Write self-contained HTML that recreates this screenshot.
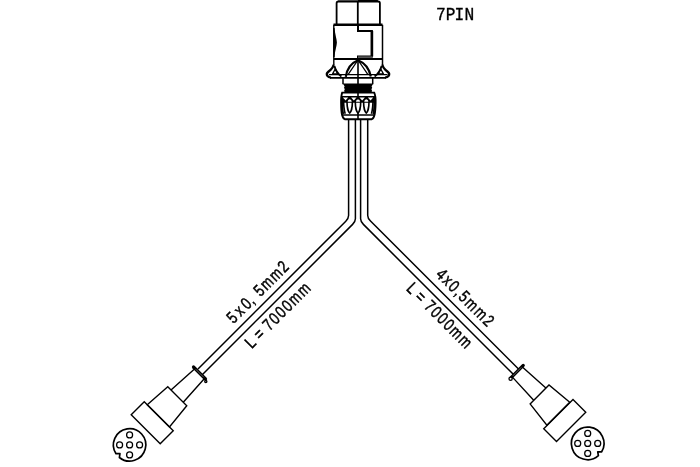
<!DOCTYPE html>
<html><head><meta charset="utf-8"><style>
html,body{margin:0;padding:0;background:#fff;}
svg{display:block;will-change:transform;}
text{font-family:"Liberation Sans",sans-serif;fill:#000;}
</style></head><body>
<svg width="700" height="467" viewBox="0 0 700 467">
<rect width="700" height="467" fill="#fff"/>
<g fill="none" stroke="#000" stroke-width="1.5"><path d="M348.6,119 L348.60,215.60 Q348.6,218.39999999999998 345.80,221.20 L198.00,369.00"/><path d="M355.4,119 L355.40,218.80 Q355.4,221.60000000000002 352.60,224.40 L202.00,375.00"/><path d="M360.6,119 L360.60,218.80 Q360.6,221.60000000000002 363.40,224.40 L514.00,375.00"/><path d="M367.7,119 L367.70,215.40 Q367.7,218.2 370.50,221.00 L519.25,369.75"/></g><g fill="none" stroke="#000" stroke-width="1.4" stroke-linejoin="miter"><path d="M194.50,369.00 L171.00,390.00 M204.25,378.75 L183.25,402.25"/><path d="M167.75,386.75 L147.25,404.75 L169.50,427.00 L186.75,405.75 Z"/><path d="M144.25,401.75 L131.20,414.80 L160.20,443.80 L173.25,430.75 Z"/><path d="M193.50,367.00 L205.50,379.00" stroke-width="3.2" stroke-linecap="round"/><path d="M195.75,369.25 L203.75,377.25" stroke="#888" stroke-width="0.7"/><circle cx="205.8" cy="381.6" r="1.1" stroke-width="1.3"/></g><g fill="none" stroke="#000" stroke-width="1.4"><path d="M522.65,367.35 L545.90,388.10 M512.65,377.35 L533.70,400.30"/><path d="M530.10,403.90 L549.00,385.00 L569.75,402.25 L546.85,425.15 Z"/><path d="M543.75,428.75 L573.00,399.50 L585.75,412.25 L556.50,441.50 Z"/><path d="M511.10,377.60 L523.25,365.45" stroke-width="3.2" stroke-linecap="round"/><path d="M512.85,375.85 L521.35,367.35" stroke="#888" stroke-width="0.7"/><circle cx="510.6" cy="378.8" r="1.6" stroke-width="1.3" fill="#fff"/></g><g fill="none" stroke="#000" stroke-width="1.7"><path d="M116.01,453.72 A16.2,16.2 0 1 1 119.41,457.49 L119.94,453.60 Z" stroke-linejoin="round"/><circle cx="129.6" cy="434.9" r="3.0" stroke-width="1.25"/><circle cx="129.6" cy="444.9" r="3.0" stroke-width="1.25"/><circle cx="119.6" cy="444.9" r="3.0" stroke-width="1.25"/><circle cx="139.6" cy="444.9" r="3.0" stroke-width="1.25"/><circle cx="129.6" cy="454.9" r="3.0" stroke-width="1.25"/></g><g fill="none" stroke="#000" stroke-width="1.7"><path d="M598.39,455.70 A16.3,16.3 0 1 1 601.67,451.80 L597.74,451.82 Z" stroke-linejoin="round"/><circle cx="587.7" cy="433.4" r="3.0" stroke-width="1.25"/><circle cx="587.7" cy="443.4" r="3.0" stroke-width="1.25"/><circle cx="577.7" cy="443.4" r="3.0" stroke-width="1.25"/><circle cx="597.7" cy="443.4" r="3.0" stroke-width="1.25"/><circle cx="587.7" cy="453.4" r="3.0" stroke-width="1.25"/></g><g fill="none" stroke="#000" stroke-width="1.8"><path d="M336.6,24.5 V3.2 Q336.6,1.5 338.3,1.5 H378.2 Q379.9,1.5 379.9,3.2 V24.5"/><path d="M357.8,1 V24.5"/><path d="M333.5,24.8 H382.5" stroke-width="2.6"/><path d="M333.8,24.8 V65" stroke-width="1.4"/><path d="M333.2,28 L334.6,28 C334.8,34 336.9,39 336.9,42.6 C336.9,46 334.8,51 334.6,57 L333.2,57 Z" fill="#000" stroke="none"/><path d="M382.5,24.8 V65" stroke-width="1.5"/><path d="M358,24.8 V31 H371.9 V56.4 H358 V58.8" stroke-width="2"/><path d="M371.9,31 V56.4" stroke-width="2.6"/><path d="M358,57.3 H372.5" stroke="#555" stroke-width="2"/><path d="M333.8,58.9 H382.5" stroke-width="2"/></g><g fill="none" stroke="#000" stroke-width="1.8" stroke-linecap="butt"><path d="M338,0 H377.5 L378.5,1.5 L338,1.5 Z" fill="#000" stroke="none" opacity="0.45"/><path d="M358,0 H377.5 L378.5,1.5 L358,1.5 Z" fill="#000" stroke="none"/><path d="M382.4,64.6 C382.9,68.5 386.3,70.6 388.3,72.3 Q389.9,73.8 388.6,75.9 Q387.6,77.5 385,77.6" stroke-width="2.3"/><path d="M381.6,66 Q379.8,72.6 374.6,76.6" stroke-width="1.9"/><path d="M380.6,68.8 L378.3,73.9 L383.4,73.9 Z" stroke-width="1.3" stroke-linejoin="round"/><path d="M333.6,64.6 C333.1,68.5 329.7,70.6 327.7,72.3 Q326.1,73.8 327.4,75.9 Q328.4,77.5 331,77.6" stroke-width="2.3"/><path d="M334.4,66 Q336.2,72.6 341.4,76.6" stroke-width="1.9"/><path d="M335.4,68.8 L337.7,73.9 L332.6,73.9 Z" stroke-width="1.3" stroke-linejoin="round"/><path d="M329,74.6 H387.5" stroke-width="1.3"/><path d="M330,77.9 H386" stroke-width="1.7"/><path d="M345.8,76.8 Q347.5,64.5 358,60.2 Q368.5,64.5 370.8,76.5" stroke-width="2.2"/><path d="M348.2,74.3 L357,61.5 M367.8,74.3 L359,61.5" stroke-width="1.3"/><path d="M343,77.8 V84.2 M372.7,77.8 V84.2" stroke-width="1.5"/></g><path d="M342.8,83.6 H373.2 L372.4,85 L371.6,86.4 L372.2,87.8 L371.4,89.2 L372,90.6 L371.6,92.6 H344.6 L344.2,90.6 L344.8,89.2 L344,87.8 L344.6,86.4 L343.8,85 Z" fill="#000"/><g fill="none" stroke="#000" stroke-width="1.9"><path d="M342.2,92.6 H374.2 Q375.8,96 375.6,103 Q375.4,111 374.6,114.5 Q373.6,118.6 371.8,119.2 H344.8 Q343,118.6 342,114.5 Q341.2,111 341.1,103 Q341,96 342.2,92.6 Z"/><path d="M341.6,96.8 H375" stroke-width="1.6"/><path d="M341.8,115 H375" stroke-width="1.6"/><path d="M347.0,102 C347.0,108.5 348.8,112.3 349.7,113 C350.59999999999997,112.3 352.4,108.5 352.4,102" stroke-width="1.6"/><path d="M355.3,102 C355.3,108.5 357.1,112.3 358,113 C358.9,112.3 360.7,108.5 360.7,102" stroke-width="1.6"/><path d="M363.6,102 C363.6,108.5 365.40000000000003,112.3 366.3,113 C367.2,112.3 369.0,108.5 369.0,102" stroke-width="1.6"/></g><path d="M341.8,96.3 H375 L374.8,102.8 L341.8,102.8 Z" fill="#000"/><path d="M342.8,97.6 L348.2,97.6 L345.5,100.6 Z" fill="#fff"/><path d="M351.15000000000003,97.6 L356.55,97.6 L353.85,100.6 Z" fill="#fff"/><path d="M359.45,97.6 L364.84999999999997,97.6 L362.15,100.6 Z" fill="#fff"/><path d="M367.8,97.6 L373.2,97.6 L370.5,100.6 Z" fill="#fff"/><path d="M347.59999999999997,101.8 Q347.9,99.4 349.7,99.3 Q351.5,99.4 351.8,101.8 Z" fill="#fff"/><path d="M355.9,101.8 Q356.2,99.4 358,99.3 Q359.8,99.4 360.1,101.8 Z" fill="#fff"/><path d="M364.2,101.8 Q364.5,99.4 366.3,99.3 Q368.1,99.4 368.40000000000003,101.8 Z" fill="#fff"/><path d="M343.6,99 C343.6,106 344.3,111 345.2,113.8 M373,99 C373,106 372.3,111 371.4,113.8" fill="none" stroke="#000" stroke-width="1.6"/><path d="M342.3,98 C342.2,105 342.4,111 343.3,114 M374.3,98 C374.4,105 374.2,111 373.3,114" fill="none" stroke="#000" stroke-width="1.8"/><path d="M358,58 V99.3 M358,112 V119.2" fill="none" stroke="#000" stroke-width="1.6"/><g font-size="15.6" stroke="#000" stroke-width="0.45"><text transform="translate(290.7,267.1) rotate(-45) scale(0.86,1.09)" text-anchor="end" letter-spacing="1.55"><tspan letter-spacing="3.2">5x</tspan><tspan letter-spacing="0.6">0,</tspan><tspan dx="1.6"> 5mm2</tspan></text><text transform="translate(312.65,288.25) rotate(-45) scale(0.86,1.09)" text-anchor="end" letter-spacing="1.25"><tspan letter-spacing="0.8">L = </tspan><tspan letter-spacing="1.75">7000mm</tspan></text><text transform="translate(488.3,328.7) rotate(45) scale(0.86,1.09)" text-anchor="end" letter-spacing="1.85">4x0,5mm2</text><text transform="translate(466.5,350.4) rotate(45) scale(0.86,1.09)" text-anchor="end" letter-spacing="1.25"><tspan letter-spacing="0.8">L = </tspan><tspan letter-spacing="1.75">7000mm</tspan></text></g>
<text transform="translate(436,20.2) scale(0.9,1)" font-family="Liberation Mono" style="font-family:'Liberation Mono',monospace" font-size="18" stroke="#000" stroke-width="0.35">7P<tspan dx="-1.1">I</tspan><tspan dx="0.3">N</tspan></text>
</svg>
</body></html>
